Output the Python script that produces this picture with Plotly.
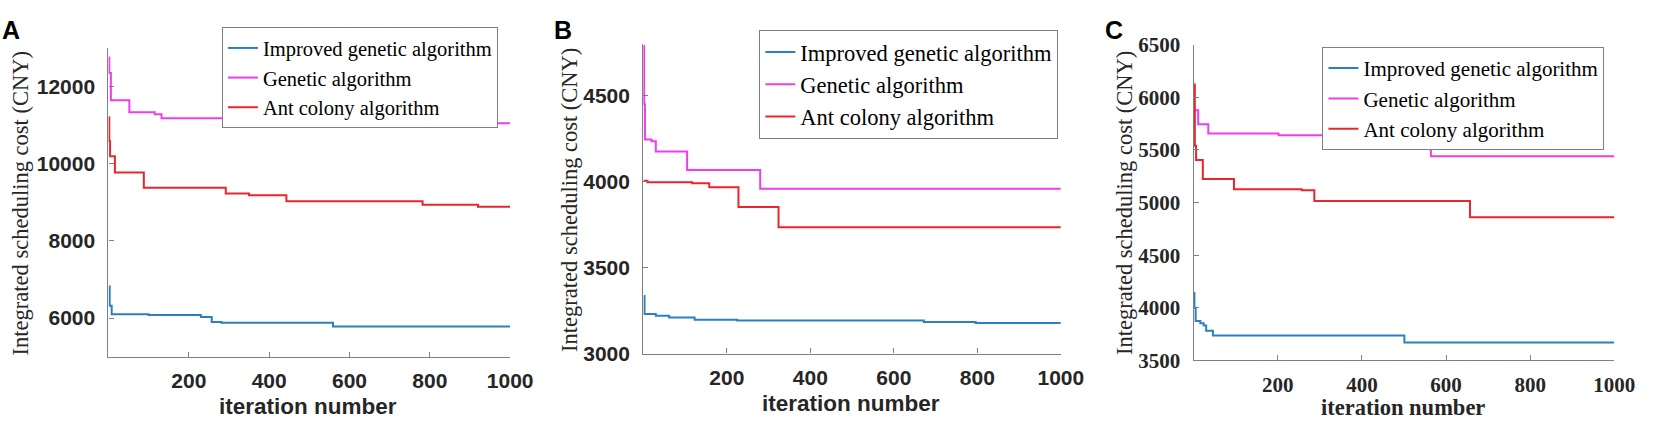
import plotly.graph_objects as go
from plotly.subplots import make_subplots

W, H = 1663, 431

## Data (step values)

names = ['Improved genetic algorithm', 'Genetic algorithm', 'Ant colony algorithm']
colors = ['#2a80c2', '#f03cf0', '#e8262c']

# panel A
a_iga_iter = [1, 3, 8, 100, 230, 257, 281, 559, 1000]
a_iga_cost = [6820, 6320, 6100, 6080, 6030, 5900, 5880, 5780, 5780]
a_ga_iter = [1, 2, 6, 52, 115, 132, 352, 1000]
a_ga_cost = [12750, 12350, 11640, 11330, 11280, 11180, 11050, 11050]
a_aco_iter = [1, 2, 4, 16, 88, 292, 350, 443, 782, 920, 1000]
a_aco_cost = [11200, 10580, 10190, 9770, 9375, 9225, 9185, 9025, 8935, 8885, 8885]

# panel B
b_iga_iter = [1, 3, 30, 62, 123, 225, 672, 796, 1000]
b_iga_cost = [3335, 3230, 3220, 3210, 3197, 3192, 3183, 3178, 3178]
b_ga_iter = [1, 2, 4, 20, 30, 105, 280, 1000]
b_ga_cost = [4790, 4450, 4245, 4235, 4175, 4068, 3958, 3958]
b_aco_iter = [1, 10, 117, 158, 228, 324, 1000]
b_aco_cost = [4005, 3996, 3990, 3967, 3852, 3734, 3734]

# panel C
c_iga_iter = [1, 2, 5, 16, 24, 30, 46, 501, 1000]
c_iga_cost = [4140, 4000, 3876, 3853, 3832, 3783, 3737, 3670, 3670]
c_ga_iter = [1, 11, 35, 202, 564, 1000]
c_ga_cost = [5877, 5745, 5657, 5640, 5440, 5440]
c_aco_iter = [1, 3, 6, 22, 96, 257, 287, 657, 1000]
c_aco_cost = [6123, 5540, 5404, 5225, 5128, 5117, 5016, 4861, 4861]

x_ticks = [200, 400, 600, 800, 1000]
a_yticks = [6000, 8000, 10000, 12000]
b_yticks = [3000, 3500, 4000, 4500]
c_yticks = [3500, 4000, 4500, 5000, 5500, 6000, 6500]

## Layout helpers (pixel -> paper)

def px(x):
    return x / W

def py(y):
    return 1 - y / H

SANS = 'Liberation Sans, Arial, sans-serif'
SERIF = 'Liberation Serif, Times New Roman, serif'

panels = [
    dict(series=[(a_iga_iter, a_iga_cost), (a_ga_iter, a_ga_cost), (a_aco_iter, a_aco_cost)],
         xdom=(110, 517.3), ydom=(38, 365), yrange=[5000, 13000], yticks=a_yticks,
         tickfont=SANS, legend='legend', leg=(225, 16), legsize=20.5,
         letter='A', letter_pos=(0, 2), ytitle_pos=(21, 203), xtitle_pos=(312, 418)),
    dict(series=[(b_iga_iter, b_iga_cost), (b_ga_iter, b_ga_cost), (b_aco_iter, b_aco_cost)],
         xdom=(652.3, 1075.7), ydom=(34, 361.7), yrange=[3000, 4800], yticks=b_yticks,
         tickfont=SANS, legend='legend2', leg=(770, 19), legsize=22.5,
         letter='B', letter_pos=(560, 2), ytitle_pos=(578, 199), xtitle_pos=(863, 415)),
    dict(series=[(c_iga_iter, c_iga_cost), (c_ga_iter, c_ga_cost), (c_aco_iter, c_aco_cost)],
         xdom=(1210.3, 1637), ydom=(34.7, 369), yrange=[3500, 6500], yticks=c_yticks,
         tickfont=SERIF, legend='legend3', leg=(1341, 37), legsize=21,
         letter='C', letter_pos=(1118, 2), ytitle_pos=(1141, 202), xtitle_pos=(1423, 419)),
]

fig = make_subplots(rows=1, cols=3)

for i, p in enumerate(panels):
    col = i + 1
    for (xs, ys), name, c in zip(p['series'], names, colors):
        fig.add_trace(
            go.Scatter(x=xs, y=ys, name=name, mode='lines', line_shape='hv',
                       line=dict(color=c, width=2), legend=p['legend']),
            row=1, col=col
        )
    axis_style = dict(showline=True, linecolor='#808080', linewidth=1.2,
                      ticks='inside', ticklen=5, tickcolor='#808080',
                      showgrid=False, zeroline=False, tickformat='d',
                      tickfont=dict(family=p['tickfont'], size=21, color='#262626', weight='bold'))
    fig.update_xaxes(range=[0, 1000], tickvals=x_ticks, domain=[px(p['xdom'][0]), px(p['xdom'][1])],
                     ticklabelstandoff=5, row=1, col=col, **axis_style)
    fig.update_yaxes(range=p['yrange'], tickvals=p['yticks'], domain=[py(p['ydom'][1]), py(p['ydom'][0])],
                     ticklabelstandoff=8, row=1, col=col, **axis_style)

    fig.add_annotation(text=p['letter'], xref='paper', yref='paper',
                       x=px(p['letter_pos'][0]), y=py(p['letter_pos'][1]),
                       xanchor='left', yanchor='top', showarrow=False,
                       font=dict(family=SANS, size=25, color='black', weight='bold'))
    fig.add_annotation(text='Integrated scheduling cost (CNY)', xref='paper', yref='paper',
                       x=px(p['ytitle_pos'][0]), y=py(p['ytitle_pos'][1]), textangle=-90,
                       xanchor='center', yanchor='middle', showarrow=False,
                       font=dict(family=SERIF, size=22.5, color='#262626'))
    fig.add_annotation(text='iteration number', xref='paper', yref='paper',
                       x=px(p['xtitle_pos'][0]), y=py(p['xtitle_pos'][1]),
                       xanchor='center', yanchor='middle', showarrow=False,
                       font=dict(family=p['tickfont'], size=22.5, color='#262626', weight='bold'))

legend_style = dict(xanchor='left', yanchor='top', bgcolor='white',
                    bordercolor='#7f7f7f', borderwidth=1, itemwidth=30)
for p in panels:
    fig.update_layout({p['legend']: dict(x=px(p['leg'][0]), y=py(p['leg'][1]),
                                         font=dict(family=SERIF, size=p['legsize'], color='black'),
                                         **legend_style)})

fig.update_layout(width=W, height=H, margin=dict(l=0, r=0, t=0, b=0),
                  plot_bgcolor='white', paper_bgcolor='white', showlegend=True)

# drop the default page margin so the figure sits at the window's corner
fig.write_html('out.html', config={'displayModeBar': False},
               post_script="document.body.style.margin='0';")
